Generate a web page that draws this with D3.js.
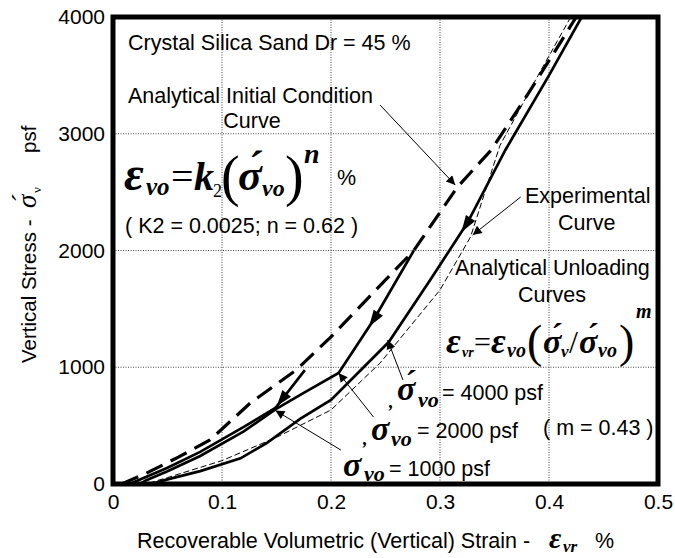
<!DOCTYPE html>
<html><head><meta charset="utf-8">
<script src="https://cdn.jsdelivr.net/npm/d3@7"></script>
<style>
html,body{margin:0;padding:0;background:#fff;}
svg{display:block;}
text{font-family:"Liberation Sans",Arial,sans-serif;fill:#000;}
.m{font-family:"Liberation Serif","Times New Roman",serif;font-weight:bold;font-style:italic;}
.r{font-family:"Liberation Serif","Times New Roman",serif;font-weight:normal;font-style:normal;}
.ri{font-family:"Liberation Serif","Times New Roman",serif;font-weight:normal;font-style:italic;}
.a{font-family:"Liberation Sans",Arial,sans-serif;font-weight:normal;font-style:normal;}
</style>
</head><body>
<svg id="chart" width="675" height="558"></svg>
<script>
// ---- data ----
const xTicks = [0, 0.1, 0.2, 0.3, 0.4, 0.5];
const yTicks = [0, 1000, 2000, 3000, 4000];
const xTickLabels = ["0", "0.1", "0.2", "0.3", "0.4", "0.5"];
const yTickLabels = ["0", "1000", "2000", "3000", "4000"];
// Analytical initial condition curve (thick dashed)
const initialStrain = [0.008, 0.03, 0.06, 0.089, 0.126, 0.168, 0.20, 0.24, 0.276, 0.316, 0.347, 0.38, 0.405, 0.425];
const initialStress = [0, 90, 230, 377, 694, 976, 1260, 1650, 2000, 2544, 2861, 3330, 3700, 4000];
// Unloading from 4000 psf
const u4000Strain = [0.43, 0.40, 0.360, 0.325, 0.291, 0.253, 0.20, 0.172, 0.141, 0.117, 0.08, 0.05, 0.035];
const u4000Stress = [4000, 3500, 2861, 2235, 1747, 1216, 720, 560, 351, 220, 110, 40, 0];
// Unloading from 2000 psf
const u2000Strain = [0.276, 0.239, 0.207, 0.175, 0.149, 0.12, 0.08, 0.05, 0.03, 0.025];
const u2000Stress = [2000, 1405, 951, 780, 640, 450, 240, 110, 30, 0];
// Unloading from 1000 psf
const u1000Strain = [0.176, 0.149, 0.12, 0.08, 0.05, 0.02, 0.015];
const u1000Stress = [976, 651, 490, 275, 140, 20, 0];
// Experimental curve (thin dashed)
const expStrain = [0.42, 0.39, 0.355, 0.328, 0.30, 0.245, 0.20, 0.15, 0.10, 0.05, 0.03];
const expStress = [4000, 3500, 2900, 2116, 1662, 1036, 634, 400, 200, 55, 0];

const zip = (a, b) => a.map((v, i) => [v, b[i]]);

// ---- layout ----
const svg = d3.select("#chart");
const L = 113, R = 658, T = 17, B = 484;
const x = d3.scaleLinear().domain([0, 0.5]).range([L, R]);
const y = d3.scaleLinear().domain([0, 4000]).range([B, T]);

// grid
svg.append("g").selectAll("line").data(xTicks.slice(1, -1)).join("line")
  .attr("x1", d => x(d)).attr("x2", d => x(d)).attr("y1", T).attr("y2", B)
  .attr("stroke", "#444").attr("stroke-width", 1).attr("stroke-dasharray", "1,1.5");
svg.append("g").selectAll("line").data(yTicks.slice(1, -1)).join("line")
  .attr("y1", d => y(d)).attr("y2", d => y(d)).attr("x1", L).attr("x2", R)
  .attr("stroke", "#444").attr("stroke-width", 1).attr("stroke-dasharray", "1,1.5");

// axes (labels)
const xa = svg.append("g").attr("transform", `translate(0,${B})`)
  .call(d3.axisBottom(x).tickValues(xTicks).tickFormat((d, i) => xTickLabels[i]).tickSize(0).tickPadding(10));
const ya = svg.append("g").attr("transform", `translate(${L},0)`)
  .call(d3.axisLeft(y).tickValues(yTicks).tickFormat((d, i) => yTickLabels[i]).tickSize(0).tickPadding(8));
[xa, ya].forEach(g => { g.select(".domain").remove(); g.selectAll("text").style("font-family", "Liberation Sans, Arial, sans-serif").style("font-size", "21px").attr("fill", "#000"); });

// curves
const line = d3.line().x(d => x(d[0])).y(d => y(d[1]));
svg.append("clipPath").attr("id", "plotclip").append("rect").attr("x", L).attr("y", T).attr("width", R - L).attr("height", B - T);
const cg = svg.append("g").attr("clip-path", "url(#plotclip)");
cg.append("path").attr("d", line(zip(expStrain, expStress))).attr("fill", "none").attr("stroke", "#000").attr("stroke-width", 1).attr("stroke-dasharray", "6,3");
cg.append("path").attr("d", line(zip(initialStrain, initialStress))).attr("fill", "none").attr("stroke", "#000").attr("stroke-width", 3.2).attr("stroke-dasharray", "18,9");
cg.append("path").attr("d", line(zip(u4000Strain, u4000Stress))).attr("fill", "none").attr("stroke", "#000").attr("stroke-width", 2.7);
cg.append("path").attr("d", line(zip(u2000Strain, u2000Stress))).attr("fill", "none").attr("stroke", "#000").attr("stroke-width", 2.7);
cg.append("path").attr("d", line(zip(u1000Strain, u1000Stress))).attr("fill", "none").attr("stroke", "#000").attr("stroke-width", 2.7);

// arrowheads along the unloading curves
function curveArrow(pts, i, t, len, wid) {
  const a = pts[i], b = pts[i + 1];
  const px = x(a[0]) + (x(b[0]) - x(a[0])) * t, py = y(a[1]) + (y(b[1]) - y(a[1])) * t;
  const ang = Math.atan2(y(b[1]) - y(a[1]), x(b[0]) - x(a[0]));
  const c = Math.cos(ang), s = Math.sin(ang);
  const p2 = [px - len * c - wid * s, py - len * s + wid * c], p3 = [px - len * c + wid * s, py - len * s - wid * c];
  cg.append("path").attr("d", `M${[px, py]}L${p2}L${p3}Z`).attr("fill", "#000");
}
curveArrow(zip(u4000Strain, u4000Stress), 3, 0.16, 17, 5.5);
curveArrow(zip(u2000Strain, u2000Stress), 1, 0.13, 17, 5.5);
curveArrow(zip(u1000Strain, u1000Stress), 0, 0.95, 16, 5.5);

// frame
svg.append("rect").attr("x", L).attr("y", T).attr("width", R - L).attr("height", B - T)
  .attr("fill", "none").attr("stroke", "#000").attr("stroke-width", 5);

// annotation arrows (data coords)
svg.append("defs").append("marker").attr("id", "ah").attr("viewBox", "0 0 10 10").attr("refX", 10).attr("refY", 5)
  .attr("markerWidth", 13).attr("markerHeight", 9).attr("markerUnits", "userSpaceOnUse").attr("orient", "auto")
  .append("path").attr("d", "M0,0L10,5L0,10Z").attr("fill", "#000");
const annoFrom = [[0.245, 3246], [0.374, 2458], [0.266, 891], [0.239, 574], [0.209, 291]];
const annoTo = [[0.314, 2561], [0.330, 2133], [0.252, 1233], [0.207, 951], [0.149, 630]];
annoFrom.forEach((f, i) => {
  svg.append("line").attr("x1", x(f[0])).attr("y1", y(f[1])).attr("x2", x(annoTo[i][0])).attr("y2", y(annoTo[i][1]))
    .attr("stroke", "#000").attr("stroke-width", 1).attr("marker-end", "url(#ah)");
});

// texts
const fs = "21.5px";
function T_(txt, tx, ty, anchor) {
  const t = svg.append("text").attr("x", tx).attr("y", ty).text(txt).style("font-size", fs);
  if (anchor) t.attr("text-anchor", anchor);
  return t;
}
// multi-part text: parts = [string, cls, size, x, y]
function MT(parts, transform) {
  const t = svg.append("text");
  if (transform) t.attr("transform", transform);
  parts.forEach(p => t.append("tspan").attr("class", p[1]).style("font-size", p[2] + "px").attr("x", p[3]).attr("y", p[4]).text(p[0]));
  return t;
}
const SP = "σ\u0301"; // sigma with prime mark above

T_("Crystal Silica Sand Dr = 45 %", 128, 50);
T_("Analytical Initial Condition", 128, 103);
T_("Curve", 252, 128, "middle");
T_("( K2 = 0.0025; n = 0.62 )", 125, 233);
T_("Experimental", 525, 203);
T_("Curve", 558, 230);
T_("Analytical Unloading", 455, 275);
T_("Curves", 552, 302, "middle");
T_("( m = 0.43 )", 543, 435);

// formula 1
MT([["ε", "m", 48, 124, 190], ["vo", "m", 25, 146, 195], ["=", "r", 40, 171, 190], ["k", "m", 40, 194, 190],
    ["2", "r", 18, 213, 197], ["(", "r", 56, 221, 195], [SP, "m", 44, 238, 190],
    ["vo", "m", 24, 262, 196], [")", "r", 56, 285, 195], ["n", "m", 28, 304, 163], ["%", "a", 21.5, 337, 185]]);

// formula 2
MT([["ε", "m", 36, 446, 353], ["vr", "m", 14, 462, 357], ["=", "r", 30, 474, 352], ["ε", "m", 36, 491, 353],
    ["vo", "m", 20, 507, 357], ["(", "r", 46, 527, 357], [SP, "m", 34, 543, 353],
    ["v", "m", 17, 561, 357], ["/", "r", 32, 569, 353], [SP, "m", 34, 579, 353],
    ["vo", "m", 20, 598, 357], [")", "r", 46, 619, 357], ["m", "m", 20, 636, 318]]);

// labels for unloading curves
MT([[",", "m", 18, 389, 408], [SP, "m", 34, 397, 400], ["vo", "m", 22, 418, 407], ["= 4000 psf", "a", 21.5, 442, 400]]);
MT([[",", "m", 18, 363, 445], ["σ", "m", 34, 371, 440], ["vo", "m", 22, 391, 446], ["= 2000 psf", "a", 21.5, 417, 438]]);
MT([["σ", "m", 34, 343, 476], ["vo", "m", 22, 364, 481], ["= 1000 psf", "a", 21.5, 389, 476]]);

// axis titles
MT([["Recoverable Volumetric (Vertical) Strain - ", "a", 21.5, 137, 548], ["ε", "m", 30, 549, 548],
    ["vr", "m", 17, 563, 552], ["%", "a", 21.5, 595, 548]]);
MT([["Vertical Stress -", "a", 20.5, 0, 0], [SP, "ri", 27, 155, 0], ["ν", "r", 13, 170, 5],
    ["psf", "a", 20.5, 210, 0]], "translate(36,363) rotate(-90)");
</script>
</body></html>
